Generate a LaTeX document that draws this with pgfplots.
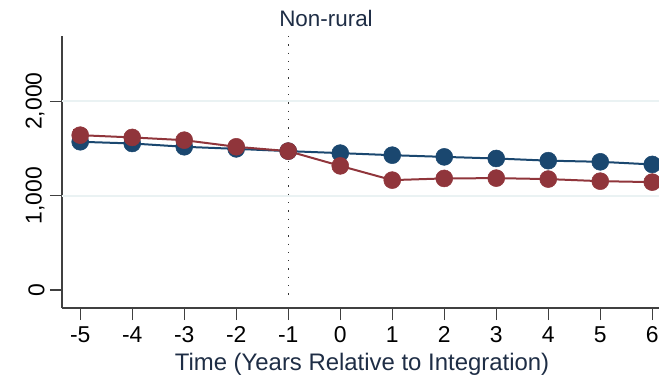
\documentclass[border=0pt]{standalone}
\usepackage{pgfplots}
\pgfplotsset{compat=1.18}
\usepackage{fontspec}
\setmainfont{Liberation Sans}
\definecolor{stblue}{HTML}{1A476F}
\definecolor{stred}{HTML}{90353B}
\definecolor{gridc}{HTML}{EAF2F3}
\definecolor{titlec}{HTML}{1E2D45}

\begin{document}
\begin{tikzpicture}[x=1bp,y=1bp]
\path[use as bounding box] (0,0) rectangle (659,379);
\begin{axis}[
  at={(62bp,71bp)}, anchor=south west,
  scale only axis, width=597bp, height=272bp,
  xmin=-5.35, xmax=6.13, ymin=-190, ymax=2690,
  axis x line*=bottom, axis y line*=left,
  axis line style={line width=1.2bp, color=black!75, -},
  xtick={-5,...,6}, ytick={0,1000,2000},
  yticklabels={0,{1,000},{2,000}},
  tick style={line width=1.2bp, color=black!75},
  tick align=outside, major tick length=12bp,
  ticklabel style={font=\fontsize{23}{25}\selectfont, text=black},
  yticklabel style={rotate=90, anchor=south},
  yticklabel shift=2bp,
  xticklabel shift=3bp,
  /pgf/number format/assume math mode=true,
  clip=false,
]
% light horizontal gridlines
\draw[gridc, line width=2bp] (axis cs:-5.35,1000) -- (axis cs:6.13,1000);
\draw[gridc, line width=2bp] (axis cs:-5.35,2000) -- (axis cs:6.13,2000);
% integration year marker
\draw[black!80, line width=1.3bp, dash pattern=on 1.3bp off 7bp]
  (axis cs:-1,2690) -- (axis cs:-1,-100);

\addplot[stblue, line width=2bp, mark=*, mark size=8.5bp,
  mark options={fill=stblue, draw=stblue, line width=0.5bp}]
  coordinates {
  (-5,1570) (-4,1552) (-3,1517) (-2,1495) (-1,1471) (0,1450)
  (1,1428) (2,1410) (3,1393) (4,1370) (5,1358) (6,1330)};

\addplot[stred, line width=2bp, mark=*, mark size=8.5bp,
  mark options={fill=stred, draw=stred, line width=0.5bp},
  error bars/.cd, y dir=both, y explicit,
  error bar style={stred, line width=1.5bp},
  error mark options={rotate=90, mark size=7bp, line width=1.5bp}]
  coordinates {
  (-5,1640) +- (0,55) (-4,1616) +- (0,35) (-3,1587) +- (0,30)
  (-2,1517) +- (0,25) (-1,1471) +- (0,0) (0,1315) +- (0,25)
  (1,1164) +- (0,25) (2,1182) +- (0,25) (3,1185) +- (0,25)
  (4,1175) +- (0,25) (5,1153) +- (0,25) (6,1143) +- (0,25)};
\end{axis}
\node[font=\fontsize{22.5}{24}\selectfont, text=titlec] at (326,361) {Non-rural};
\node[font=\fontsize{24}{26}\selectfont, text=titlec] at (362,15) {Time (Years Relative to Integration)};
\end{tikzpicture}
\end{document}
